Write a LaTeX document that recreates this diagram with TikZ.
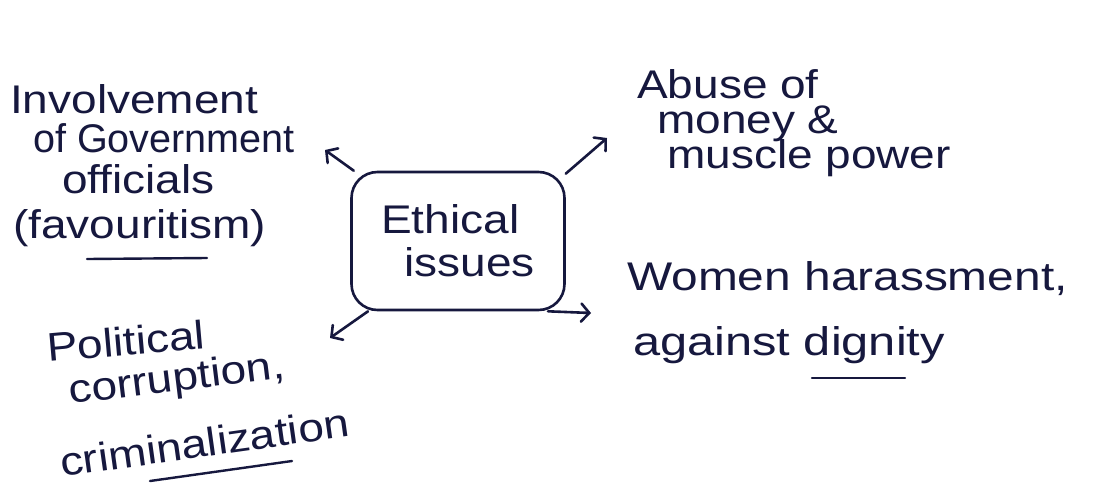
\documentclass[tikz,border=0pt]{standalone}
\usepackage{fontspec}
\newfontfamily\hand{Liberation Sans}[FakeStretch=1.15]
\usetikzlibrary{arrows.meta}
\definecolor{ink}{RGB}{22,24,62}
\tikzset{
  lbl/.style={font=\hand\fontsize{40}{44}\selectfont, text=ink, inner sep=0pt, anchor=base west},
  hubbox/.style={draw=ink, line width=2.6pt, rounded corners=26pt, minimum width=213pt,
    minimum height=138pt, align=left, font=\hand\fontsize{40}{43}\selectfont, text=ink, inner sep=0pt},
  conn/.style={draw=ink, line width=2.6pt, line cap=round,
    -{Straight Barb[length=8pt,width=18pt,line cap=round]}},
  uline/.style={draw=ink, line width=2.4pt, line cap=round}
}
\begin{document}
\begin{tikzpicture}[x=1pt,y=-1pt]
\useasboundingbox[fill=white] (0,0) rectangle (1093,488);

% central box
\node[hubbox] (hub) at (458,241) {Ethical\\\hspace*{23pt}issues};

% top-left branch
\node[lbl] (inv1) at (10,113) {Involvement};
\node[lbl] (inv2) at (33,152) {\scalebox{0.86}[1]{of Government}};
\node[lbl] (inv3) at (62,193) {officials};
\node[lbl] (inv4) at (13,238) {(favouritism)};
\draw[uline] (87,259) -- (207,258);

% top-right branch
\node[lbl] (ab1) at (637,98) {Abuse of};
\node[lbl] (ab2) at (657,133) {money \&};
\node[lbl] (ab3) at (667,168) {muscle power};

% right branch
\node[lbl] (wo1) at (627,290) {\scalebox{1.04}[1]{Women harassment,}};
\node[lbl] (wo2) at (633,355) {\scalebox{1.06}[1]{against dignity}};
\draw[uline] (812,378) -- (905,378);

% bottom-left branch
\node[lbl, rotate=5] (po1) at (48,362) {Political};
\node[lbl, rotate=7] (po2) at (70,404) {corruption,};
\node[lbl, rotate=8] (po3) at (62,477) {criminalization};
\draw[uline] (150,481) -- (292,461);

% arrow tips
\coordinate (tlTip) at (325,150);
\coordinate (trTip) at (607,138);
\coordinate (rTip) at (591,313);
\coordinate (blTip) at (330,338);

\draw[conn] (hub.146) -- (tlTip);
\draw[conn] (hub.32) -- (trTip);
\draw[conn] (hub.-38) -- (rTip);
\draw[conn] (hub.218) -- (blTip);
\end{tikzpicture}
\end{document}
